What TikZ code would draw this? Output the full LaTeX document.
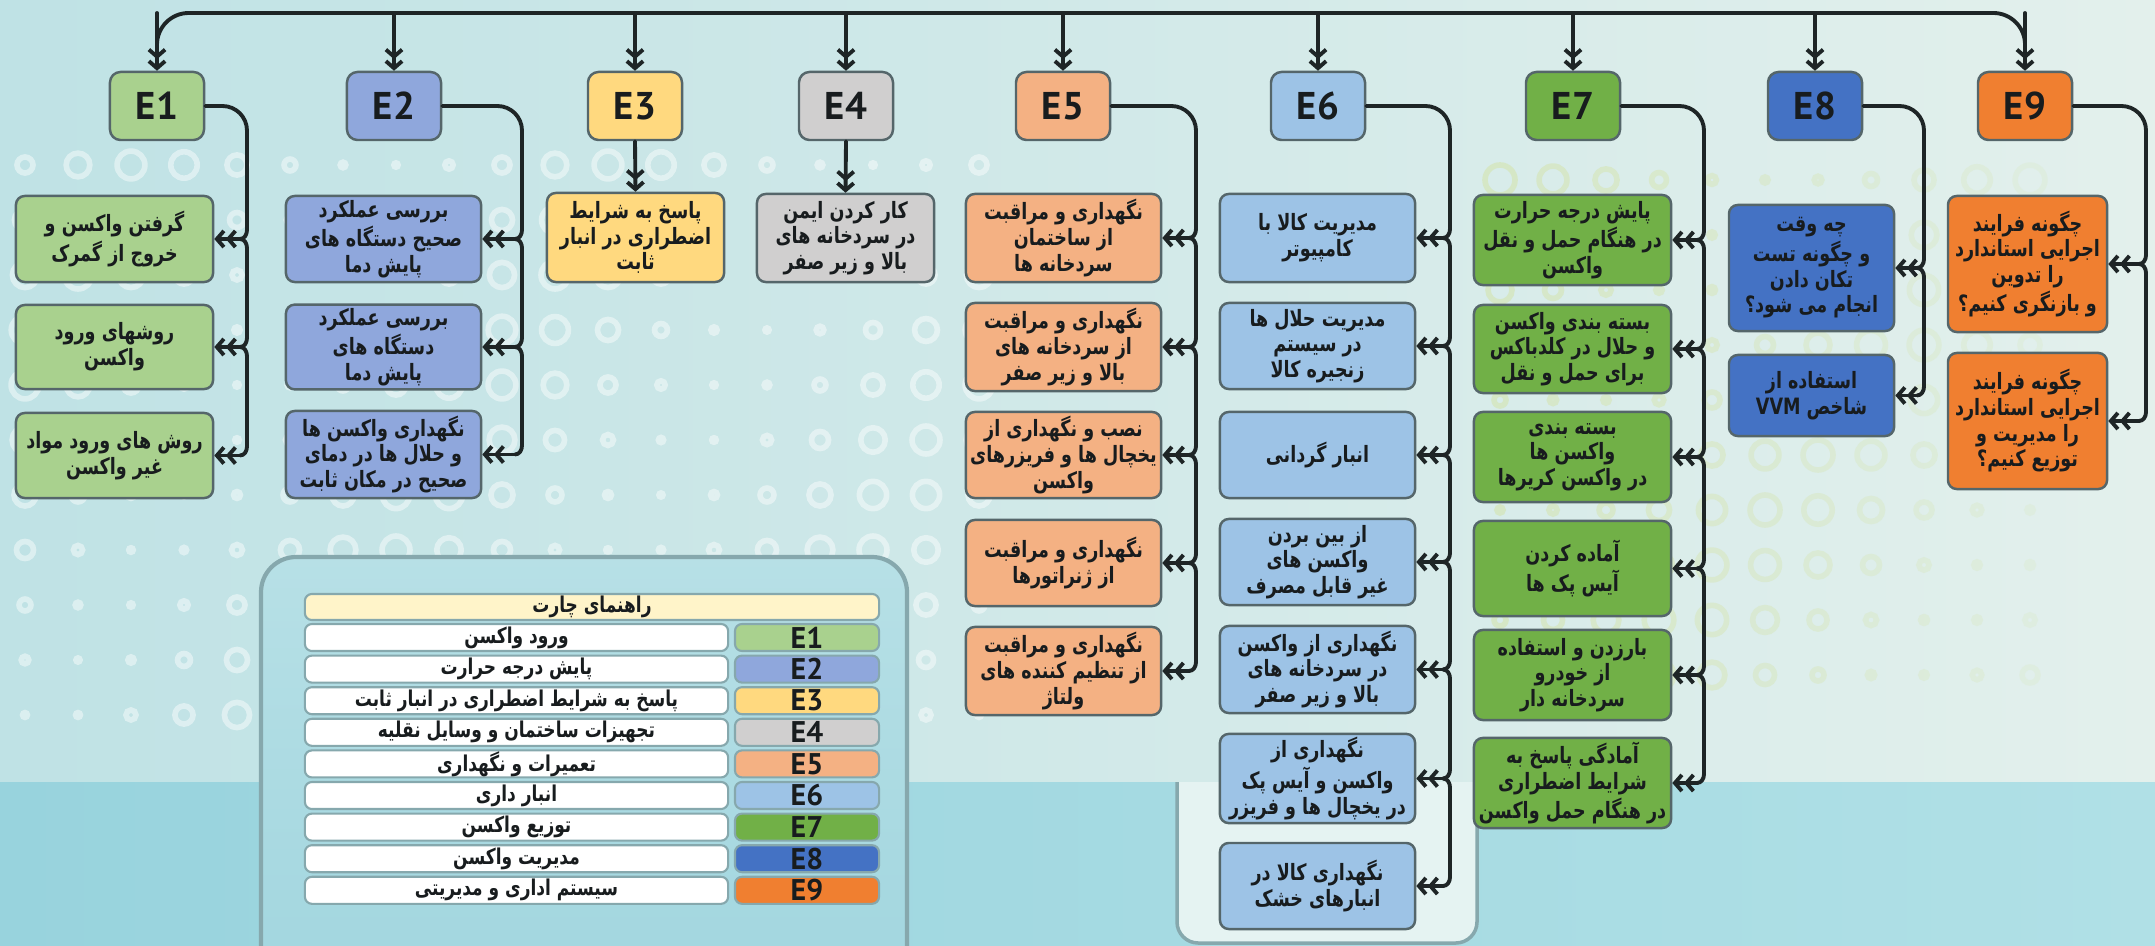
\documentclass[tikz,border=0pt]{standalone}
\usepackage{fontspec}
\usetikzlibrary{arrows.meta,calc}
\TeXXeTstate=1
\newfontfamily\fafont[Script=Arabic, FakeStretch=0.78]{DejaVu Sans}
\newfontfamily\enfont{PT Sans}

\definecolor{cEone}{HTML}{A9D18E}
\definecolor{cEtwo}{HTML}{8FA7DC}
\definecolor{cEthree}{HTML}{FFD97F}
\definecolor{cEfour}{HTML}{D0CFCF}
\definecolor{cEfive}{HTML}{F4B183}
\definecolor{cEsix}{HTML}{9DC3E6}
\definecolor{cEseven}{HTML}{71B047}
\definecolor{cEeight}{HTML}{4472C4}
\definecolor{cEnine}{HTML}{F07F30}
\definecolor{wirecol}{HTML}{1E2526}
\definecolor{boxline}{HTML}{55666A}
\definecolor{txtcol}{HTML}{181C1E}
\definecolor{bgleft}{HTML}{BFE2E5}
\definecolor{bgmid}{HTML}{EFF7F5}
\definecolor{bgright}{HTML}{E3F0EC}
\definecolor{bglow}{HTML}{98D3DD}
\definecolor{bglowr}{HTML}{B0E0E6}
\definecolor{legtop}{HTML}{B7E0E6}
\definecolor{legbot}{HTML}{A2D6DF}
\definecolor{panelline}{HTML}{86A8AD}
\definecolor{legcream}{HTML}{FFF4C9}
\definecolor{ringgreen}{HTML}{D3E29C}

% one right-to-left line of Persian text
\newcommand{\fatxt}[1]{\beginR #1\endR}

% spine from a header down to its boxes, with a brace bump at each box
\newcommand{\spinecol}[4]{% #1 header, #2 spine x, #3 box prefix, #4 number of boxes
  \coordinate (sp) at (#2,0);
  \draw[wire, rounded corners=7] (#1.east) -- (sp |- #1.east) -- ($(sp |- #31.east)+(0,-9)$);
  \foreach \i in {1,...,#4} {
    \draw[wire] ($(sp |- #3\i.east)+(0,-9)$) to[out=-90,in=0] ($(sp |- #3\i.east)+(-7,0)$);
    \draw[wire, twohead] ($(sp |- #3\i.east)+(-7,0)$) -- (#3\i.east);
  }
  \foreach \i in {2,...,#4} {
    \pgfmathtruncatemacro{\k}{\i-1}
    \draw[wire] ($(sp |- #3\k.east)+(-7,0)$) to[out=0,in=90] ($(sp |- #3\k.east)+(0,9)$) -- ($(sp |- #3\i.east)+(0,-9)$);
  }
}

\tikzset{
  wire/.style={draw=wirecol, line width=1.1pt, line cap=round},
  twohead/.style={-{Straight Barb[length=2pt,width=4.6pt]Straight Barb[length=2pt,width=4.6pt]}},
  head/.style={draw=boxline, line width=0.7pt, rounded corners=3pt, minimum width=0.94cm,
    minimum height=0.68cm, inner sep=0pt, text=txtcol, font=\enfont\bfseries\fontsize{11}{13}\selectfont},
  item/.style={draw=boxline, line width=0.7pt, rounded corners=2.5pt, align=center, inner sep=1pt,
    text=txtcol, font=\fafont\bfseries\fontsize{6.4}{7.3}\selectfont},
  legtext/.style={draw=panelline, line width=0.6pt, fill=white, rounded corners=2pt, minimum width=4.23cm,
    minimum height=0.27cm, inner sep=0pt, text=txtcol, font=\fafont\bfseries\fontsize{6.2}{6.6}\selectfont},
  legkey/.style={draw=panelline, line width=0.6pt, rounded corners=2pt, minimum width=1.44cm,
    minimum height=0.27cm, inner sep=0pt, text=txtcol, font=\enfont\bfseries\fontsize{8.5}{9}\selectfont},
  ring/.style={line width=1.6pt},
}

\begin{document}
\begin{tikzpicture}[x=0.01cm, y=-0.01cm]
  \useasboundingbox (0,0) rectangle (2155,946);
  \clip (0,0) rectangle (2155,946);

  % background
  \shade[left color=bgleft, middle color=bgmid, right color=bgright] (0,0) rectangle (2155,782);
  \shade[left color=bglow, right color=bglowr] (0,782) rectangle (2155,946);
  % rings in the background
  \foreach \cx in {0,...,18} {
    \foreach \cy in {0,...,10} {
      \pgfmathsetmacro{\rr}{8+6*sin(\cx*40+\cy*25)}
      \draw[ring, white, opacity=0.45] (25+\cx*53,165+\cy*55) circle[radius=\rr*0.01cm];
    }
  }
  \foreach \cx in {0,...,10} {
    \foreach \cy in {0,...,9} {
      \pgfmathsetmacro{\rr}{9+6*cos(\cx*35+\cy*30)}
      \pgfmathsetmacro{\op}{0.45-0.03*\cx}
      \draw[ring, ringgreen, opacity=\op] (1500+\cx*53,180+\cy*55) circle[radius=\rr*0.01cm];
    }
  }
  \filldraw[fill=bgmid!80!bgleft, draw=panelline, line width=1pt, rounded corners=6]
    (1177,782) -- (1177,943) -- (1477,943) -- (1477,782);
  \shadedraw[top color=legtop, bottom color=legbot, draw=panelline, line width=1.2pt, rounded corners=10]
    (261,557) rectangle (907,980);

  % headers
  \foreach \k/\x/\c in {1/157/cEone, 2/394/cEtwo, 3/635/cEthree, 4/846/cEfour, 5/1063/cEfive,
                        6/1318/cEsix, 7/1573/cEseven, 8/1815/cEeight, 9/2025/cEnine}
    \node[head, fill=\c] (E\k) at (\x,106) {E\k};

  % top bus
  \coordinate (bus) at (0,13);
  \draw[wire, rounded corners=9] ($(E1.north |- bus)+(0,22)$) -- (E1.north |- bus)
    -- (E9.north |- bus) -- ($(E9.north |- bus)+(0,22)$);
  \foreach \k in {1,...,9}
    \draw[wire, twohead] (E\k.north |- bus) -- (E\k.north);

  % E1 boxes
  \foreach \n/\yt/\yb/\txt in {
      1/196/282/{\fatxt{گرفتن واکسن و}\\\fatxt{خروج از گمرک}},
      2/305/389/{\fatxt{روشهای ورود}\\\fatxt{واکسن}},
      3/413/498/{\fatxt{روش های ورود مواد}\\\fatxt{غیر واکسن}}} {
    \pgfmathsetmacro{\yc}{(\yt+\yb)/2}
    \pgfmathsetmacro{\hh}{(\yb-\yt)/100}
    \node[item, fill=cEone, minimum width=1.97cm, minimum height=\hh cm] (eA\n) at (114.5,\yc) {\txt};
  }
  % E2 boxes
  \foreach \n/\yt/\yb/\txt in {
      1/196/282/{\fatxt{بررسی عملکرد}\\\fatxt{صحیح دستگاه های}\\\fatxt{پایش دما}},
      2/305/389/{\fatxt{بررسی عملکرد}\\\fatxt{دستگاه های}\\\fatxt{پایش دما}},
      3/411/498/{\fatxt{نگهداری واکسن ها}\\\fatxt{و حلال ها در دمای}\\\fatxt{صحیح در مکان ثابت}}} {
    \pgfmathsetmacro{\yc}{(\yt+\yb)/2}
    \pgfmathsetmacro{\hh}{(\yb-\yt)/100}
    \node[item, fill=cEtwo, minimum width=1.95cm, minimum height=\hh cm] (eB\n) at (383.5,\yc) {\txt};
  }
  % E3 and E4 boxes
  \node[item, fill=cEthree, minimum width=1.77cm, minimum height=0.89cm] (eC1) at (635.5,237.5)
    {\fatxt{پاسخ به شرایط}\\\fatxt{اضطراری در انبار}\\\fatxt{ثابت}};
  \node[item, fill=cEfour, minimum width=1.77cm, minimum height=0.88cm] (eD1) at (845.5,238)
    {\fatxt{کار کردن ایمن}\\\fatxt{در سردخانه های}\\\fatxt{بالا و زیر صفر}};
  % E5 boxes
  \foreach \n/\yt/\yb/\txt in {
      1/194/282/{\fatxt{نگهداری و مراقبت}\\\fatxt{از ساختمان}\\\fatxt{سردخانه ها}},
      2/303/391/{\fatxt{نگهداری و مراقبت}\\\fatxt{از سردخانه های}\\\fatxt{بالا و زیر صفر}},
      3/412/498/{\fatxt{نصب و نگهداری از}\\\fatxt{یخچال ها و فریزرهای}\\\fatxt{واکسن}},
      4/520/606/{\fatxt{نگهداری و مراقبت}\\\fatxt{از ژنراتورها}},
      5/627/715/{\fatxt{نگهداری و مراقبت}\\\fatxt{از تنظیم کننده های}\\\fatxt{ولتاژ}}} {
    \pgfmathsetmacro{\yc}{(\yt+\yb)/2}
    \pgfmathsetmacro{\hh}{(\yb-\yt)/100}
    \node[item, fill=cEfive, minimum width=1.95cm, minimum height=\hh cm] (eE\n) at (1063.5,\yc) {\txt};
  }
  % E6 boxes
  \foreach \n/\yt/\yb/\txt in {
      1/194/282/{\fatxt{مدیریت کالا با}\\\fatxt{کامپیوتر}},
      2/303/389/{\fatxt{مدیریت حلال ها}\\\fatxt{در سیستم}\\\fatxt{زنجیره کالا}},
      3/412/498/{\fatxt{انبار گردانی}},
      4/519/605/{\fatxt{از بین بردن}\\\fatxt{واکسن های}\\\fatxt{غیر قابل مصرف}},
      5/626/713/{\fatxt{نگهداری از واکسن}\\\fatxt{در سردخانه های}\\\fatxt{بالا و زیر صفر}},
      6/735/822/{\fatxt{نگهداری از}\\\fatxt{واکسن و آیس پک}\\\fatxt{در یخچال ها و فریزر}},
      7/843/929/{\fatxt{نگهداری کالا در}\\\fatxt{انبارهای خشک}}} {
    \pgfmathsetmacro{\yc}{(\yt+\yb)/2}
    \pgfmathsetmacro{\hh}{(\yb-\yt)/100}
    \node[item, fill=cEsix, minimum width=1.95cm, minimum height=\hh cm] (eF\n) at (1317.5,\yc) {\txt};
  }
  % E7 boxes
  \foreach \n/\yt/\yb/\txt in {
      1/195/285/{\fatxt{پایش درجه حرارت}\\\fatxt{در هنگام حمل و نقل}\\\fatxt{واکسن}},
      2/305/393/{\fatxt{بسته بندی واکسن}\\\fatxt{و حلال در کلدباکس}\\\fatxt{برای حمل و نقل}},
      3/412/502/{\fatxt{بسته بندی}\\\fatxt{واکسن ها}\\\fatxt{در واکسن کریرها}},
      4/521/616/{\fatxt{آماده کردن}\\\fatxt{آیس پک ها}},
      5/630/720/{\fatxt{بارزدن و استفاده}\\\fatxt{از خودرو}\\\fatxt{سردخانه دار}},
      6/738/828/{\fatxt{آمادگی پاسخ به}\\\fatxt{شرایط اضطراری}\\\fatxt{در هنگام حمل واکسن}}} {
    \pgfmathsetmacro{\yc}{(\yt+\yb)/2}
    \pgfmathsetmacro{\hh}{(\yb-\yt)/100}
    \node[item, fill=cEseven, minimum width=1.97cm, minimum height=\hh cm] (eG\n) at (1572.5,\yc) {\txt};
  }
  % E8 boxes
  \node[item, fill=cEeight, minimum width=1.65cm, minimum height=1.26cm] (eH1) at (1811.5,268)
    {\fatxt{چه وقت}\\\fatxt{و چگونه تست}\\\fatxt{تکان دادن}\\\fatxt{انجام می شود؟}};
  \node[item, fill=cEeight, minimum width=1.65cm, minimum height=0.81cm] (eH2) at (1811.5,395.5)
    {\fatxt{استفاده از}\\\fatxt{شاخص \beginL VVM\endL}};
  % E9 boxes
  \node[item, fill=cEnine, minimum width=1.59cm, minimum height=1.36cm] (eI1) at (2027.5,264)
    {\fatxt{چگونه فرایند}\\\fatxt{اجرایی استاندارد}\\\fatxt{را تدوین}\\\fatxt{و بازنگری کنیم؟}};
  \node[item, fill=cEnine, minimum width=1.59cm, minimum height=1.36cm] (eI2) at (2027.5,421)
    {\fatxt{چگونه فرایند}\\\fatxt{اجرایی استاندارد}\\\fatxt{را مدیریت و}\\\fatxt{توزیع کنیم؟}};

  % connectors
  \spinecol{E1}{247}{eA}{3}
  \spinecol{E2}{522}{eB}{3}
  \draw[wire, twohead] (E3.south) -- (eC1.north);
  \draw[wire, twohead] (E4.south) -- (eD1.north);
  \spinecol{E5}{1196}{eE}{5}
  \spinecol{E6}{1450}{eF}{7}
  \spinecol{E7}{1704}{eG}{6}
  \spinecol{E8}{1924}{eH}{2}
  \spinecol{E9}{2146}{eI}{2}

  % chart guide
  \node[legtext, fill=legcream, minimum width=5.74cm, minimum height=0.26cm] (lt) at (592,607)
    {\fatxt{راهنمای چارت}};
  \foreach \i/\c/\t in {1/cEone/{ورود واکسن}, 2/cEtwo/{پایش درجه حرارت},
      3/cEthree/{پاسخ به شرایط اضطراری در انبار ثابت}, 4/cEfour/{تجهیزات ساختمان و وسایل نقلیه},
      5/cEfive/{تعمیرات و نگهداری}, 6/cEsix/{انبار داری}, 7/cEseven/{توزیع واکسن},
      8/cEeight/{مدیریت واکسن}, 9/cEnine/{سیستم اداری و مدیریتی}} {
    \pgfmathsetmacro{\yy}{637.5+(\i-1)*31.6}
    \node[legtext] (lr\i) at (516.5,\yy) {\fatxt{\t}};
    \node[legkey, fill=\c] (lc\i) at (807,\yy) {E\i};
  }
\end{tikzpicture}
\end{document}
